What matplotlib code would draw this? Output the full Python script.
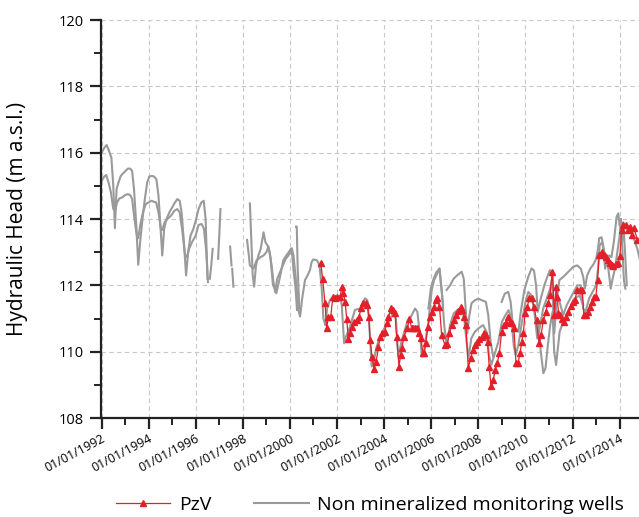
import numpy as np
import matplotlib.pyplot as plt
from matplotlib.lines import Line2D
from matplotlib.ticker import MultipleLocator, FuncFormatter

plt.rcParams['font.family'] = ['Open Sans', 'DejaVu Sans']

nan = np.nan

# PzV piezometer (decimal year, head in m a.s.l.)
pzv_t = [2001.31, 2001.39, 2001.49, 2001.56, 2001.63, 2001.73, 2001.82, 2001.92, 2002.01, 2002.13,
         2002.20, 2002.27, 2002.34, 2002.41, 2002.48, 2002.55, 2002.62, 2002.72, 2002.84, 2002.93,
         2003.02, 2003.12, 2003.22, 2003.29, 2003.35, 2003.40, 2003.49, 2003.57, 2003.66, 2003.76,
         2003.83, 2003.93, 2004.02, 2004.11, 2004.18, 2004.28, 2004.39, 2004.46, 2004.53, 2004.63,
         2004.70, 2004.76, 2004.83, 2004.99, 2005.07, 2005.17, 2005.24, 2005.31, 2005.40, 2005.50,
         2005.57, 2005.64, 2005.70, 2005.77, 2005.85, 2005.95, 2006.03, 2006.12, 2006.19, 2006.26,
         2006.35, 2006.44, 2006.58, 2006.68, 2006.77, 2006.87, 2006.96, 2007.05, 2007.15, 2007.25,
         2007.32, 2007.39, 2007.47, 2007.57, 2007.67, 2007.76, 2007.86, 2007.96, 2008.04, 2008.14,
         2008.24, 2008.32, 2008.39, 2008.46, 2008.54, 2008.63, 2008.72, 2008.80, 2008.89, 2008.99,
         2009.09, 2009.17, 2009.26, 2009.34, 2009.41, 2009.51, 2009.60, 2009.68, 2009.77, 2009.84,
         2009.91, 2009.98, 2010.08, 2010.16, 2010.26, 2010.36, 2010.47, 2010.57, 2010.66, 2010.76,
         2010.86, 2010.96, 2011.04, 2011.14, 2011.23, 2011.30, 2011.35, 2011.40, 2011.47, 2011.55,
         2011.64, 2011.72, 2011.82, 2011.92, 2012.00, 2012.10, 2012.20, 2012.31, 2012.41, 2012.48,
         2012.56, 2012.64, 2012.74, 2012.82, 2012.92, 2012.99, 2013.06, 2013.13, 2013.23, 2013.33,
         2013.42, 2013.52, 2013.59, 2013.66, 2013.73, 2013.83, 2013.91, 2014.01, 2014.08, 2014.15,
         2014.25, 2014.34, 2014.44, 2014.51, 2014.61, 2014.75]
pzv_h = [112.68, 112.18, 111.46, 110.70, 111.05, 111.05, 111.64, 111.61, 111.64, 111.64,
         111.94, 111.76, 111.51, 111.00, 110.37, 110.55, 110.75, 110.90, 110.95, 111.05,
         111.31, 111.46, 111.48, 111.41, 111.06, 110.35, 109.85, 109.47, 109.70, 110.15,
         110.45, 110.55, 110.60, 110.85, 111.05, 111.31, 111.26, 111.16, 110.45, 109.55,
         109.90, 110.10, 110.45, 110.70, 111.00, 110.70, 110.70, 110.70, 110.70, 110.55,
         110.40, 109.95, 109.95, 110.25, 110.75, 111.06, 111.20, 111.36, 111.56, 111.61,
         111.36, 110.50, 110.20, 110.23, 110.55, 110.80, 110.95, 111.10, 111.24, 111.36,
         111.26, 111.06, 110.80, 109.50, 109.80, 110.05, 110.20, 110.30, 110.37, 110.45,
         110.55, 110.50, 110.30, 109.55, 108.95, 109.15, 109.45, 109.65, 109.95, 110.60,
         110.80, 110.87, 111.06, 110.90, 110.85, 110.70, 109.65, 109.65, 109.95, 110.30,
         110.55, 111.16, 111.36, 111.61, 111.61, 111.36, 110.95, 110.25, 110.50, 110.95,
         111.20, 111.46, 111.71, 112.40, 111.10, 111.96, 111.66, 111.16, 111.10, 111.00,
         110.90, 111.06, 111.20, 111.38, 111.50, 111.56, 111.86, 111.86, 111.86, 111.10,
         111.10, 111.20, 111.36, 111.50, 111.66, 111.66, 112.16, 112.92, 113.02, 112.92,
         112.85, 112.77, 112.68, 112.60, 112.58, 112.64, 112.66, 112.87, 113.67, 113.82,
         113.82, 113.67, 113.75, 113.52, 113.72, 113.37]

# non mineralized monitoring wells
well1_t = [1992.03, 1992.12, 1992.22, 1992.32, 1992.42, 1992.50, 1992.57, 1992.64, 1992.72, 1992.82,
           1992.92, 1993.02, 1993.12, 1993.22, 1993.30, 1993.38, 1993.47, 1993.56, 1993.64, 1993.74,
           1993.84, 1993.94, 1994.03, 1994.13, 1994.23, 1994.33, 1994.42, 1994.50, 1994.58, 1994.66,
           1994.76, 1994.88, 1995.00, 1995.12, 1995.22, 1995.32, 1995.40, 1995.50, 1995.59, 1995.68,
           1995.78, 1995.90, 1996.02, 1996.12, 1996.24, 1996.34, 1996.42, 1996.50, 1996.55,
           1998.30, 1998.36, 1998.42, 1998.48, 1998.56, 1998.66, 1998.76, 1998.88, 1998.96, 1999.05,
           1999.14, 1999.22, 1999.30, 1999.37, 1999.46, 1999.58, 1999.70, 1999.82, 1999.94, 2000.04,
           2000.10, 2000.16, 2000.24, 2000.30, 2000.35,
           2005.88, 2005.98, 2006.10, 2006.22, 2006.35, 2006.42, 2006.50, 2006.58, 2006.65, 2006.80,
           2006.95, 2007.10, 2007.29, 2007.38, 2007.45, 2007.53, 2007.62, 2007.71, 2007.85, 2008.00,
           2008.15, 2008.32, 2008.42, 2008.52, 2008.63, 2008.80,
           2008.99, 2009.12, 2009.27, 2009.37, 2009.45, 2009.52, 2009.60, 2009.70, 2009.80, 2009.95,
           2010.12, 2010.26, 2010.36, 2010.45, 2010.52, 2010.65, 2010.80, 2010.95, 2011.04, 2011.12,
           2011.22, 2011.32, 2011.44, 2011.60, 2011.82, 2012.03, 2012.20, 2012.35, 2012.45, 2012.52,
           2012.62, 2012.75, 2012.90, 2013.00, 2013.08, 2013.13, 2013.23, 2013.30, 2013.38, 2013.45,
           2013.55, 2013.65, 2013.75, 2013.87, 2013.94, 2014.00, 2014.05, 2014.12, 2014.18, 2014.24]
well1_h = [116.03, 116.15, 116.23, 116.05, 115.85, 115.00, 113.72, 114.90, 115.10, 115.30,
           115.38, 115.45, 115.52, 115.52, 115.45, 114.90, 113.90, 112.62, 113.30, 114.00,
           114.60, 115.10, 115.28, 115.30, 115.28, 115.20, 114.70, 113.80, 112.90, 113.70,
           114.00, 114.20, 114.35, 114.50, 114.60, 114.55, 114.20, 113.30, 112.30, 113.00,
           113.50, 113.70, 114.00, 114.30, 114.50, 114.55, 114.00, 112.20, nan,
           114.47, 113.40, 112.30, 111.96, 112.60, 112.90, 113.10, 113.60, 113.30, 113.20,
           113.00, 112.60, 112.10, 111.80, 112.20, 112.40, 112.60, 112.80, 112.90, 113.10,
           112.90, 112.40, 111.90, 111.26, nan,
           111.30, 111.90, 112.20, 112.40, 112.50, 112.00, 111.40, nan, 111.86, 112.00,
           112.20, 112.30, 112.41, 112.20, 111.40, 110.55, 111.10, 111.46, 111.55, 111.60,
           111.55, 111.50, 111.10, 110.30, 109.85, nan,
           111.50, 111.75, 111.80, 111.50, 110.90, 110.60, 110.70, 110.60, 111.20, 111.85,
           112.26, 112.51, 112.45, 112.00, 111.20, 111.60, 112.00, 112.30, 112.46, 112.30,
           110.55, 111.50, 112.16, 112.25, 112.41, 112.56, 112.60, 112.50, 112.26, 111.90,
           112.30, 112.50, 112.65, 112.80, 113.10, 113.42, 113.45, 113.20, 112.50, 112.70,
           112.90, 112.85, 113.30, 114.07, 114.17, 113.80, 114.00, 113.00, 112.16, 111.90]

well2_t = [1992.03, 1992.12, 1992.20, 1992.30, 1992.40, 1992.50, 1992.58, 1992.66, 1992.76, 1992.88,
           1993.00, 1993.12, 1993.22, 1993.30, 1993.40, 1993.50, 1993.56, 1993.64, 1993.76, 1993.88,
           1994.00, 1994.12, 1994.22, 1994.32, 1994.42, 1994.52, 1994.58, 1994.68, 1994.80, 1994.95,
           1995.10, 1995.22, 1995.32, 1995.42, 1995.55, 1995.62, 1995.72, 1995.84, 1996.00, 1996.12,
           1996.25, 1996.35, 1996.45, 1996.52, 1996.56,
           1998.18, 1998.24, 1998.30, 1998.45, 1998.59, 1998.75, 1998.88, 1999.00, 1999.09, 1999.18,
           1999.28, 1999.37, 1999.42, 1999.50, 1999.58, 1999.72, 1999.85, 2000.00, 2000.08, 2000.15,
           2000.25, 2000.36, 2000.43, 2000.52, 2000.64, 2000.75, 2000.85, 2000.92, 2000.99, 2001.13,
           2001.20, 2001.27, 2001.35, 2001.42, 2001.50, 2001.58, 2001.70, 2001.85, 2002.00, 2002.13,
           2002.20, 2002.30, 2002.38, 2002.55, 2002.76, 2002.97, 2003.19, 2003.29, 2003.37, 2003.47,
           2003.57, 2003.68, 2003.83, 2004.04, 2004.25, 2004.39, 2004.50, 2004.60, 2004.75, 2004.96,
           2005.10, 2005.31, 2005.41, 2005.53, 2005.60, 2005.67, 2005.88, 2006.02, 2006.12, 2006.25,
           2006.35, 2006.45, 2006.55, 2006.65, 2006.80, 2006.95, 2007.10, 2007.29, 2007.40, 2007.50,
           2007.58, 2007.70, 2007.85, 2008.00, 2008.20, 2008.35, 2008.45, 2008.55, 2008.68, 2008.85,
           2009.00, 2009.15, 2009.28, 2009.40, 2009.50, 2009.58, 2009.70, 2009.85, 2010.00, 2010.12,
           2010.25, 2010.38, 2010.50, 2010.60, 2010.75, 2010.90, 2011.05, 2011.15, 2011.22, 2011.30,
           2011.45, 2011.60, 2011.75, 2011.90, 2012.05, 2012.20, 2012.35, 2012.45, 2012.55, 2012.70,
           2012.85, 2013.00, 2013.08, 2013.15, 2013.25, 2013.35, 2013.45, 2013.55, 2013.62, 2013.70,
           2013.80, 2013.90, 2014.00, 2014.05, 2014.10, 2014.15, 2014.22, 2014.30, 2014.45, 2014.60,
           2014.75, 2014.85]
well2_h = [115.18, 115.28, 115.33, 115.10, 114.80, 114.30, 114.27, 114.50, 114.62, 114.65,
           114.72, 114.75, 114.72, 114.60, 114.00, 113.50, 113.42, 113.80, 114.20, 114.45,
           114.50, 114.55, 114.52, 114.50, 114.20, 113.70, 113.67, 113.90, 114.00, 114.10,
           114.25, 114.30, 114.20, 113.70, 112.90, 112.85, 113.10, 113.30, 113.50, 113.82,
           113.85, 113.70, 113.00, 112.10, nan,
           113.37, 113.00, 112.60, 112.50, 112.76, 112.85, 112.90, 113.00, 113.17, 112.80,
           112.00, 111.90, 111.76, 112.00, 112.26, 112.76, 112.90, 113.05, 113.12, 112.90,
           112.20, 111.26, 111.06, 111.60, 112.16, 112.30, 112.46, 112.70, 112.78, 112.76,
           112.70, 112.50, 111.90, 111.00, 110.80, 111.30, 111.56, 111.66, 111.66, 111.66,
           111.40, 110.25, 110.45, 110.75, 111.26, 111.30, 111.61, 111.55, 110.80, 109.55,
           109.75, 110.15, 110.45, 110.75, 110.95, 111.20, 111.00, 109.85, 110.35, 110.85,
           111.00, 111.30, 111.20, 110.45, 109.85, 109.95, 110.90, 111.86, 112.16, 112.35,
           112.51, 111.80, 110.80, 110.20, 110.80, 111.15, 111.25, 111.30, 111.00, 110.30,
           109.80, 110.40, 110.60, 110.70, 110.80, 110.60, 109.90, 109.60, 109.90, 110.30,
           110.90, 111.10, 111.25, 111.00, 110.20, 109.90, 110.20, 110.90, 111.50, 111.80,
           111.70, 111.20, 110.40, 110.70, 111.30, 111.60, 111.90, 112.30, 110.80, 111.60,
           111.50, 111.10, 111.40, 111.60, 111.80, 112.00, 112.00, 111.30, 111.20, 111.60,
           111.80, 112.00, 112.50, 113.20, 113.30, 113.00, 112.90, 112.30, 111.90, 112.20,
           112.50, 113.00, 113.50, 114.00, 113.30, 113.90, 113.10, 112.00, nan, 113.40,
           113.10, 112.80]

well3_t = [1996.60, 1996.66, 1996.72, 1996.76, 1996.95, 1997.00, 1997.05, 1997.08,
           1997.46, 1997.52, 1997.53, 1997.55, 1997.60, 1997.62,
           2000.26, 2000.29, 2000.33, 2000.40, 2000.45,
           2010.55, 2010.65, 2010.76, 2010.85, 2010.95, 2011.05, 2011.15, 2011.22, 2011.30, 2011.45,
           2011.60, 2011.75, 2011.90, 2012.10, 2012.30, 2012.45]
well3_h = [112.20, 112.60, 113.10, nan, 112.80, 113.50, 114.30, nan,
           113.17, 112.60, nan, 112.50, 111.96, nan,
           113.77, 113.77, 112.50, 111.30, nan,
           110.90, 110.00, 109.35, 109.50, 110.20, 110.80, 111.20, 110.00, 109.60, 110.60,
           110.90, 111.10, 111.30, 111.60, 111.70, 111.40]

red = '#e3202a'
grey = '#9a9a9a'

fig = plt.figure(figsize=(6.39, 5.17), dpi=100)
ax = fig.add_axes([101.5 / 639, 99 / 517, 537.5 / 639, 398 / 517])

for t, h in [(well1_t, well1_h), (well2_t, well2_h), (well3_t, well3_h)]:
    ax.plot(t, h, color=grey, lw=1.5, zorder=2)
ax.plot(pzv_t, pzv_h, color=red, lw=0.9, marker='^', ms=4, mec=red, mfc=red, zorder=3)

ax.set_xlim(1992, 2014.82)
ax.set_ylim(108, 120)
ax.xaxis.set_major_locator(MultipleLocator(2))
ax.xaxis.set_minor_locator(MultipleLocator(1))
ax.yaxis.set_major_locator(MultipleLocator(2))
ax.yaxis.set_minor_locator(MultipleLocator(1))
ax.xaxis.set_major_formatter(FuncFormatter(lambda v, p: '01/01/%d' % round(v)))

ax.grid(True, which='major', color='#c8c8c8', lw=0.8, ls=(0, (4, 3)), zorder=0)
for s in ['top', 'right']:
    ax.spines[s].set_visible(False)
for s in ['left', 'bottom']:
    ax.spines[s].set_linewidth(1.6)
    ax.spines[s].set_color('#222222')

ax.tick_params(axis='both', which='major', direction='out', length=8, width=1.6, color='#222222')
ax.tick_params(axis='both', which='minor', direction='out', length=5, width=1.4, color='#222222')
ax.tick_params(axis='y', labelsize=10.5, pad=5)
ax.tick_params(axis='x', labelsize=9, pad=2)
for lab in ax.get_xticklabels():
    lab.set_rotation(28)
    lab.set_ha('right')
    lab.set_rotation_mode('anchor')

ax.set_ylabel('Hydraulic Head (m a.s.l.)', fontsize=15, labelpad=22)

handles = [Line2D([], [], color=red, lw=0.9, marker='^', ms=4, mfc=red, mec=red),
           Line2D([], [], color=grey, lw=1.5)]
fig.legend(handles, ['PzV', 'Non mineralized monitoring wells'], loc='center',
           bbox_to_anchor=(370 / 639, 12 / 517), ncol=2, frameon=False, fontsize=14,
           handlelength=2.8, columnspacing=2.2, handletextpad=0.45, numpoints=1,
           borderpad=0.1)

fig.savefig('out.png', dpi=100)
